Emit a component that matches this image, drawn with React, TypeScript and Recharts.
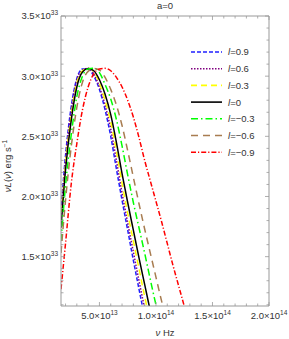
import React from 'react';
import { LineChart, Line, XAxis, YAxis, Legend } from 'recharts';

// frequency nu in units of 1e13 Hz
const NU = [1.6, 2, 2.5, 3, 3.5, 4, 4.5, 5, 5.5, 6, 6.5, 7, 7.5, 8, 8.5, 9, 9.5, 10, 10.5, 11, 11.5, 12, 12.5, 13];
// nu L(nu) in units of 1e33 erg/s
const L_P09 = [1.88, 2.34, 2.745, 2.98, 3.06, 3.06, 3.0, 2.89, 2.72, 2.5, 2.23, 1.97, 1.72, 1.47, 1.23, 1.0, 0.8];
const L_P06 = [1.85, 2.31, 2.71, 2.97, 3.05, 3.065, 3.02, 2.91, 2.76, 2.56, 2.3, 2.03, 1.78, 1.54, 1.3, 1.07, 0.86];
const L_P03 = [1.79, 2.26, 2.67, 2.94, 3.045, 3.065, 3.04, 2.94, 2.8, 2.62, 2.38, 2.11, 1.86, 1.63, 1.4, 1.17, 0.96];
const L_0 = [1.74, 2.22, 2.63, 2.91, 3.035, 3.063, 3.045, 2.97, 2.85, 2.68, 2.45, 2.19, 1.95, 1.72, 1.49, 1.27, 1.05, 0.85];
const L_M03 = [1.63, 2.09, 2.51, 2.83, 3.0, 3.06, 3.065, 3.03, 2.93, 2.81, 2.64, 2.42, 2.18, 1.95, 1.74, 1.53, 1.31, 1.1, 0.92];
const L_M06 = [1.53, 1.97, 2.41, 2.74, 2.95, 3.04, 3.063, 3.05, 2.99, 2.89, 2.76, 2.59, 2.38, 2.16, 1.94, 1.73, 1.53, 1.33, 1.13, 0.95];
const L_M09 = [1.23, 1.61, 2.1, 2.44, 2.72, 2.91, 3.02, 3.06, 3.065, 3.045, 2.99, 2.91, 2.8, 2.66, 2.49, 2.3, 2.13, 1.96, 1.79, 1.61, 1.43, 1.26, 1.09, 0.92];

const SERIES_LABELS = ['0.9', '0.6', '0.3', '0', '\u22120.3', '\u22120.6', '\u22120.9'];

const X_MAJOR = [5, 10, 15, 20];
const X_MAJOR_LABELS = [['5.0', '13'], ['1.0', '14'], ['1.5', '14'], ['2.0', '14']];
const X_MINOR = [2, 3, 4, 5, 6, 7, 8, 9, 10, 11, 12, 13, 14, 15, 16, 17, 18, 19, 20];
const Y_MAJOR = [1.5, 2.0, 2.5, 3.0, 3.5];
const Y_MAJOR_LABELS = [['1.5', '33'], ['2.0', '33'], ['2.5', '33'], ['3.0', '33'], ['3.5', '33']];
const Y_MINOR = [1.1, 1.2, 1.3, 1.4, 1.5, 1.6, 1.7, 1.8, 1.9, 2.0, 2.1, 2.2, 2.3, 2.4, 2.5, 2.6, 2.7, 2.8, 2.9, 3.0, 3.1, 3.2, 3.3, 3.4, 3.5];

const STYLES = [
  { key: 'p09', values: L_P09, color: '#2020ff', dash: '4 2' },
  { key: 'p06', values: L_P06, color: '#800080', dash: '1.5 1.5' },
  { key: 'p03', values: L_P03, color: '#ffff00', dash: '6 4' },
  { key: 'z0', values: L_0, color: '#000000', dash: undefined },
  { key: 'm03', values: L_M03, color: '#00ff00', dash: '7 3 1.5 3' },
  { key: 'm06', values: L_M06, color: '#a87c50', dash: '7 5' },
  { key: 'm09', values: L_M09, color: '#ff0000', dash: '5 2 1.2 2' },
];

const data = NU.map((nu, i) => {
  const row: any = { nu };
  STYLES.forEach((s) => {
    row[s.key] = i < s.values.length ? s.values[i] : null;
  });
  return row;
});

const FONT = 'Liberation Sans, Arial, sans-serif';
const FS = 9.5;
const SUP = 6.5;
const TXT = '#333';
const FRAME = '#999';

const near = (arr: number[], v: number) => arr.findIndex((m) => Math.abs(m - v) < 1e-6);

const BottomTick = (props: any) => {
  const { x, y, payload } = props;
  const idx = near(X_MAJOR, payload.value);
  const len = idx >= 0 ? 4 : 2.5;
  return (
    <g>
      <line x1={x} y1={y} x2={x} y2={y - len} stroke={FRAME} strokeWidth={0.8} />
      {idx >= 0 && (
        <text x={x} y={y + 12.5} textAnchor="middle" fontSize={FS} fontFamily={FONT} fill={TXT}>
          {X_MAJOR_LABELS[idx][0]}×10
          <tspan dy={-4} fontSize={SUP}>{X_MAJOR_LABELS[idx][1]}</tspan>
        </text>
      )}
    </g>
  );
};

const TopTick = (props: any) => {
  const { x, y, payload } = props;
  const len = near(X_MAJOR, payload.value) >= 0 ? 4 : 2.5;
  return <line x1={x} y1={y} x2={x} y2={y + len} stroke={FRAME} strokeWidth={0.8} />;
};

const LeftTick = (props: any) => {
  const { x, y, payload } = props;
  const idx = near(Y_MAJOR, payload.value);
  const len = idx >= 0 ? 4 : 2.5;
  return (
    <g>
      <line x1={x} y1={y} x2={x + len} y2={y} stroke={FRAME} strokeWidth={0.8} />
      {idx >= 0 && (
        <text x={x - 3} y={y + 3.4} textAnchor="end" fontSize={FS} fontFamily={FONT} fill={TXT}>
          {Y_MAJOR_LABELS[idx][0]}×10
          <tspan dy={-4} fontSize={SUP}>{Y_MAJOR_LABELS[idx][1]}</tspan>
        </text>
      )}
    </g>
  );
};

const RightTick = (props: any) => {
  const { x, y, payload } = props;
  const len = near(Y_MAJOR, payload.value) >= 0 ? 4 : 2.5;
  return <line x1={x} y1={y} x2={x - len} y2={y} stroke={FRAME} strokeWidth={0.8} />;
};

const XTitle = () => (
  <text x={165} y={336} textAnchor="middle" fontSize={FS} fontFamily={FONT} fill={TXT}>
    <tspan fontStyle="italic">ν</tspan> Hz
  </text>
);

const YTitle = () => (
  <text x={11} y={166} transform="rotate(-90 11 166)" textAnchor="middle" fontSize={FS} fontFamily={FONT} fill={TXT}>
    <tspan fontStyle="italic">ν</tspan>
    <tspan fontStyle="italic">L</tspan>(<tspan fontStyle="italic">ν</tspan>) erg s
    <tspan dy={-4} fontSize={SUP}>−1</tspan>
  </text>
);

const TopTitle = () => (
  <text x={165} y={8.5} textAnchor="middle" fontSize={FS} fontFamily={FONT} fill={TXT}>
    a=0
  </text>
);

const LegendBox = () => (
  <svg width={100} height={125} style={{ display: 'block' }}>
    {STYLES.map((s, i) => {
      const cy = 10 + i * 16.7;
      return (
        <g key={s.key}>
          <line x1={6} y1={cy} x2={37} y2={cy} stroke={s.color} strokeWidth={1.6} strokeDasharray={s.dash} />
          <text x={43} y={cy + 3.4} fontSize={FS} fontFamily={FONT} fill={TXT}>
            <tspan fontStyle="italic">l</tspan>={SERIES_LABELS[i]}
          </text>
        </g>
      );
    })}
  </svg>
);

export default function App() {
  return (
    <div style={{ position: 'absolute', left: 0, top: 0, width: 289, height: 339, background: '#fff' }}>
      <LineChart width={289} height={339} data={data} margin={{ top: 15, right: 19, bottom: 32, left: 0 }}>
        <XAxis
          dataKey="nu"
          type="number"
          domain={[1.6, 20]}
          allowDataOverflow
          ticks={X_MINOR}
          interval={0}
          height={1}
          tickSize={0}
          tickMargin={0}
          tickLine={false}
          tick={<BottomTick />}
          axisLine={{ stroke: FRAME }}
          label={<XTitle />}
        />
        <XAxis
          xAxisId="top"
          dataKey="nu"
          orientation="top"
          type="number"
          domain={[1.6, 20]}
          allowDataOverflow
          ticks={X_MINOR}
          interval={0}
          height={1}
          tickSize={0}
          tickMargin={0}
          tickLine={false}
          tick={<TopTick />}
          axisLine={{ stroke: FRAME }}
          label={<TopTitle />}
        />
        <YAxis
          type="number"
          domain={[1.09, 3.5]}
          allowDataOverflow
          ticks={Y_MINOR}
          interval={0}
          width={61}
          tickSize={0}
          tickMargin={0}
          tickLine={false}
          tick={<LeftTick />}
          axisLine={{ stroke: FRAME }}
          label={<YTitle />}
        />
        <YAxis
          yAxisId="right"
          orientation="right"
          type="number"
          domain={[1.09, 3.5]}
          allowDataOverflow
          ticks={Y_MINOR}
          interval={0}
          width={1}
          tickSize={0}
          tickMargin={0}
          tickLine={false}
          tick={<RightTick />}
          axisLine={{ stroke: FRAME }}
        />
        {STYLES.map((s) => (
          <Line
            key={s.key}
            dataKey={s.key}
            type="monotone"
            stroke={s.color}
            strokeWidth={1.5}
            strokeDasharray={s.dash}
            dot={false}
            activeDot={false}
            isAnimationActive={false}
          />
        ))}
        <Legend
          layout="vertical"
          align="center"
          verticalAlign="middle"
          content={<LegendBox />}
          wrapperStyle={{ left: 185, top: 42, width: 100, height: 125 }}
        />
      </LineChart>
    </div>
  );
}
